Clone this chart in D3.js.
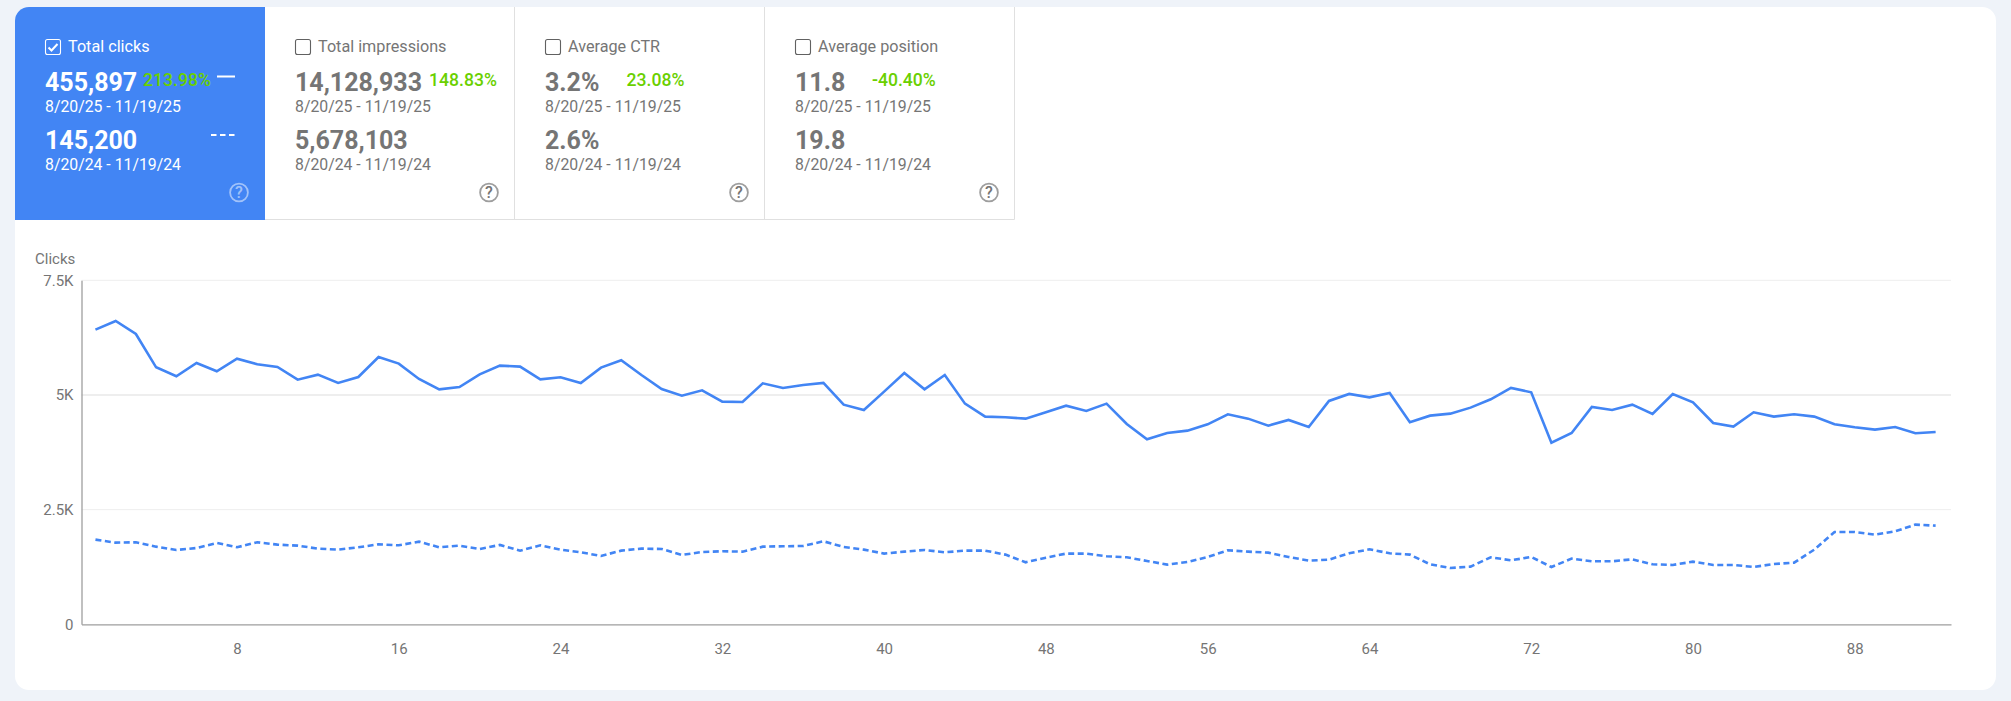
<!DOCTYPE html>
<html>
<head>
<meta charset="utf-8">
<title>Clicks</title>
<script src="https://cdn.jsdelivr.net/npm/d3@7"></script>
<style>
  html, body { margin: 0; padding: 0; background: #eff3f9; overflow: hidden; }
  svg { display: block; }
  text { font-family: Roboto, sans-serif; }
  .axis text { font-size: 15px; fill: #757575; }
  .axis .domain { stroke: #9e9e9e; stroke-width: 1.3px; }
  .axis .tick line { display: none; }
  .grid line { stroke: #eeeeee; }
</style>
</head>
<body>
<script>
var clicks = [6424, 6613, 6330, 5603, 5407, 5698, 5516, 5792, 5669, 5610, 5334, 5443, 5262, 5392, 5828, 5683, 5349, 5123, 5174, 5451, 5640, 5618, 5341, 5385, 5262, 5596, 5756, 5436, 5131, 4985, 5102, 4855, 4847, 5254, 5153, 5218, 5262, 4789, 4673, 5073, 5480, 5123, 5436, 4811, 4528, 4513, 4484, 4622, 4767, 4651, 4811, 4368, 4033, 4172, 4222, 4360, 4578, 4484, 4331, 4455, 4302, 4869, 5022, 4949, 5044, 4404, 4549, 4593, 4724, 4906, 5153, 5058, 3961, 4172, 4738, 4673, 4789, 4586, 5022, 4840, 4390, 4310, 4622, 4528, 4578, 4528, 4360, 4295, 4244, 4302, 4164, 4193];
var clicksPrev = [1846, 1780, 1788, 1693, 1621, 1664, 1773, 1679, 1788, 1737, 1715, 1650, 1628, 1679, 1744, 1722, 1802, 1679, 1715, 1642, 1730, 1606, 1722, 1628, 1570, 1490, 1606, 1650, 1642, 1512, 1577, 1592, 1584, 1693, 1701, 1708, 1810, 1686, 1628, 1541, 1584, 1621, 1570, 1606, 1606, 1519, 1352, 1453, 1541, 1541, 1483, 1461, 1381, 1301, 1359, 1468, 1613, 1584, 1562, 1468, 1388, 1410, 1548, 1635, 1548, 1519, 1308, 1228, 1257, 1461, 1395, 1468, 1250, 1432, 1374, 1374, 1417, 1308, 1294, 1366, 1294, 1294, 1250, 1315, 1344, 1628, 2013, 2013, 1955, 2028, 2173, 2151];
var xTickValues = [8, 16, 24, 32, 40, 48, 56, 64, 72, 80, 88];
var yTickValues = [0, 2500, 5000, 7500];
var yTickLabels = ["0", "2.5K", "5K", "7.5K"];

var tileTitles = ["Total clicks", "Total impressions", "Average CTR", "Average position"];
var tileValues = ["455,897", "14,128,933", "3.2%", "11.8"];
var tilePrevValues = ["145,200", "5,678,103", "2.6%", "19.8"];
var tileChanges = ["213.98%", "148.83%", "23.08%", "-40.40%"];
var dateRange = "8/20/25 - 11/19/25";
var datePrevRange = "8/20/24 - 11/19/24";

var blue = "#4285f4", grey = "#757575", green = "#6ad000";

var svg = d3.select("body").append("svg")
  .attr("width", 2011)
  .attr("height", 701);

// white card
svg.append("rect")
  .attr("x", 15).attr("y", 7)
  .attr("width", 1981).attr("height", 683)
  .attr("rx", 14)
  .attr("fill", "#fff");

// tiles across the top
var tileLeft = [15, 265, 514, 764];
var tileRight = [265, 514, 764, 1014];
var contentLeft = [45, 295, 545, 795];
var changeLeft = [143, 429, 626.5, 872];
var helpX = [239, 489, 739, 989];

var tiles = svg.selectAll(".tile").data(tileTitles).enter().append("g")
  .attr("class", "tile");

// first tile is the selected one, only its top left corner is round
tiles.filter(function(d, i){ return i === 0; }).append("path")
  .attr("d", "M15,220 V21 A14,14 0 0 1 29,7 H265 V220 Z")
  .attr("fill", blue);

tiles.filter(function(d, i){ return i > 0; }).append("path")
  .attr("d", function(d, i){
    var r = tileRight[i + 1] + 0.5;
    return "M" + r + ",7 V219.5 H" + (tileLeft[i + 1]);
  })
  .attr("fill", "none")
  .attr("stroke", "#e0e0e0");

tiles.each(function(title, i) {
  var g = d3.select(this);
  var x = contentLeft[i];
  var fg = i === 0 ? "#fff" : grey;

  g.append("rect")
    .attr("x", x + 0.5).attr("y", 39.5)
    .attr("width", 15).attr("height", 15)
    .attr("rx", 2)
    .attr("fill", "none")
    .attr("stroke", i === 0 ? "#fff" : "#616161")
    .attr("stroke-width", 1.1);
  if (i === 0) {
    g.append("path")
      .attr("d", "M" + (x + 3.5) + ",47.5 l3,3 l6,-6.5")
      .attr("fill", "none")
      .attr("stroke", "#fff")
      .attr("stroke-width", 2);
  }

  g.append("text").attr("x", x + 23).attr("y", 52)
    .attr("font-size", 16.2).attr("fill", fg).text(title);
  g.append("text").attr("x", x).attr("y", 91)
    .attr("font-size", 25).attr("font-weight", 700).attr("fill", fg).text(tileValues[i]);
  g.append("text").attr("x", x).attr("y", 112)
    .attr("font-size", 15.8).attr("fill", fg).text(dateRange);
  g.append("text").attr("x", x).attr("y", 149)
    .attr("font-size", 25).attr("font-weight", 700).attr("fill", fg).text(tilePrevValues[i]);
  g.append("text").attr("x", x).attr("y", 170)
    .attr("font-size", 15.8).attr("fill", fg).text(datePrevRange);
  g.append("text").attr("x", changeLeft[i]).attr("y", 86)
    .attr("font-size", 17.6).attr("font-weight", 500).attr("fill", green).text(tileChanges[i]);

  // help icon
  g.append("circle")
    .attr("cx", helpX[i]).attr("cy", 192.5).attr("r", 8.9)
    .attr("fill", "none")
    .attr("stroke", i === 0 ? "rgba(255,255,255,.5)" : "#9e9e9e")
    .attr("stroke-width", 1.8);
  g.append("text").attr("x", helpX[i]).attr("y", 198.3)
    .attr("text-anchor", "middle")
    .attr("font-size", 16).attr("font-weight", 500)
    .attr("fill", i === 0 ? "rgba(255,255,255,.5)" : "#757575")
    .text("?");
});

// series keys on the selected tile
svg.append("line").attr("x1", 217).attr("x2", 235).attr("y1", 76.5).attr("y2", 76.5)
  .attr("stroke", "#fff").attr("stroke-width", 2);
svg.append("line").attr("x1", 211).attr("x2", 235).attr("y1", 135).attr("y2", 135)
  .attr("stroke", "#fff").attr("stroke-width", 2).attr("stroke-dasharray", "5.5 3.5");

// chart
var plotLeft = 81.5, plotRight = 1951;
var x = d3.scaleLinear().domain([0.31, 92.76]).range([plotLeft, plotRight]);
var y = d3.scaleLinear().domain([0, 7500]).range([624.3, 280.3]);

svg.append("g").attr("class", "grid").selectAll("line")
  .data(yTickValues.slice(1)).enter().append("line")
  .attr("x1", plotLeft).attr("x2", plotRight)
  .attr("y1", function(d){ return y(d); })
  .attr("y2", function(d){ return y(d); })
  .attr("stroke-width", function(d){ return d === 5000 ? 2 : 1; });

var xAxis = d3.axisBottom(x)
  .tickValues(xTickValues)
  .tickSize(0)
  .tickPadding(19)
  .tickFormat(d3.format("d"));
svg.append("g").attr("class", "axis")
  .attr("transform", "translate(0,624.3)")
  .call(xAxis);

var yAxis = d3.axisLeft(y)
  .tickValues(yTickValues)
  .tickSize(0)
  .tickPadding(8)
  .tickFormat(function(d, i){ return yTickLabels[i]; });
svg.append("g").attr("class", "axis")
  .attr("transform", "translate(" + plotLeft + ",0)")
  .call(yAxis);

svg.append("text")
  .attr("x", 35).attr("y", 264)
  .attr("font-size", 15).attr("fill", grey)
  .text("Clicks");

var line = d3.line()
  .x(function(d, i){ return x(i + 1); })
  .y(function(d){ return y(d); });

svg.append("path").datum(clicksPrev)
  .attr("d", line)
  .attr("fill", "none")
  .attr("stroke", blue)
  .attr("stroke-width", 2.6)
  .attr("stroke-dasharray", "6 3.5");

svg.append("path").datum(clicks)
  .attr("d", line)
  .attr("fill", "none")
  .attr("stroke", blue)
  .attr("stroke-width", 2.6);
</script>
</body>
</html>
